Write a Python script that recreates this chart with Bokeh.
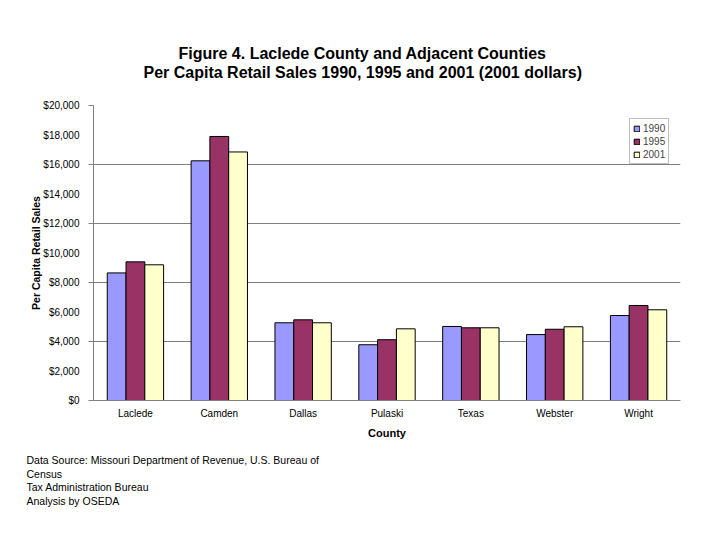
from bokeh.plotting import figure
from bokeh.models import (ColumnDataSource, FactorRange, Range1d, FixedTicker,
                          NumeralTickFormatter, Legend, LegendItem, Title)
from bokeh.transform import dodge
from bokeh.embed import file_html
from bokeh.resources import INLINE

# ---------------- data ----------------
counties = ["Laclede", "Camden", "Dallas", "Pulaski", "Texas", "Webster", "Wright"]
years = ["1990", "1995", "2001"]
sales_1990 = [8650, 16250, 5270, 3780, 5020, 4470, 5760]
sales_1995 = [9400, 17900, 5470, 4120, 4930, 4830, 6440]
sales_2001 = [9200, 16850, 5270, 4860, 4930, 5000, 6150]
y_ticks = list(range(0, 20001, 2000))
grid_ticks = [0, 4000, 8000, 12000, 16000, 20000]
title_lines = ["Figure 4. Laclede County and Adjacent Counties",
               "Per Capita Retail Sales 1990, 1995 and 2001 (2001 dollars)"]
y_title = "Per Capita Retail Sales"
x_title = "County"
source_lines = ["Data Source: Missouri Department of Revenue, U.S. Bureau of",
                "Census",
                "Tax Administration Bureau",
                "Analysis by OSEDA"]
colors = ["#9999FF", "#993366", "#FFFFCC"]

# ---------------- layout ----------------
W, H = 704, 524
FL, FR, FT, FB = 93, 680, 105, 400   # plot frame in canvas pixels
YMAX = 20000
FONT = "Liberation Sans"

source = ColumnDataSource(dict(county=counties, y1990=sales_1990,
                               y1995=sales_1995, y2001=sales_2001))

p = figure(width=W, height=H, x_range=FactorRange(*counties),
           y_range=Range1d(0, YMAX), output_backend="svg", toolbar_location=None,
           min_border_left=FL, min_border_right=W - FR,
           min_border_top=FT, min_border_bottom=H - FB)
p.outline_line_color = None
p.background_fill_color = "white"

bw = 0.224
renderers = []
for i, (col, c) in enumerate(zip(["y1990", "y1995", "y2001"], colors)):
    r = p.vbar(x=dodge("county", (i - 1) * bw, range=p.x_range), top=col,
               width=bw, source=source, fill_color=c, line_color="black",
               line_width=1)
    renderers.append(r)

# axes
p.xaxis.axis_line_color = "#808080"
p.xaxis.major_tick_line_color = None
p.xaxis.major_tick_out = 0
p.xaxis.major_tick_in = 0
p.xaxis.major_label_standoff = 7
p.xaxis.major_label_text_font = FONT
p.xaxis.major_label_text_font_size = "10px"
p.xaxis.major_label_text_color = "black"
p.xaxis.axis_label = x_title
p.xaxis.axis_label_text_font = FONT
p.xaxis.axis_label_text_font_size = "11px"
p.xaxis.axis_label_text_font_style = "bold"
p.xaxis.axis_label_text_color = "black"
p.xaxis.axis_label_standoff = 5
p.xgrid.visible = False

p.yaxis.ticker = FixedTicker(ticks=y_ticks, minor_ticks=grid_ticks)
p.yaxis.formatter = NumeralTickFormatter(format="$0,0")
p.yaxis.axis_line_color = "#808080"
p.yaxis.major_tick_line_color = None
p.yaxis.major_tick_out = 0
p.yaxis.major_tick_in = 0
p.yaxis.minor_tick_line_color = "#808080"
p.yaxis.minor_tick_out = 5
p.yaxis.minor_tick_in = 0
p.yaxis.major_label_standoff = 9
p.yaxis.major_label_text_font = FONT
p.yaxis.major_label_text_font_size = "10px"
p.yaxis.major_label_text_color = "black"
p.yaxis.axis_label = y_title
p.yaxis.axis_label_text_font = FONT
p.yaxis.axis_label_text_font_size = "10.5px"
p.yaxis.axis_label_text_font_style = "bold"
p.yaxis.axis_label_text_color = "black"
p.yaxis.axis_label_standoff = -2
p.ygrid.ticker = FixedTicker(ticks=grid_ticks[1:])
p.ygrid.grid_line_color = "#808080"
p.ygrid.grid_line_width = 1

# legend
legend = Legend(items=[LegendItem(label=y, renderers=[r]) for y, r in zip(years, renderers)],
                location=(536, 236), orientation="vertical",
                glyph_width=7, glyph_height=7, label_height=12, label_standoff=3,
                spacing=1, padding=3, margin=0,
                label_text_font=FONT, label_text_font_size="10px",
                border_line_color="#808080", border_line_width=1,
                background_fill_color="white", background_fill_alpha=1)
p.add_layout(legend)

# title: outer line is the plot's own title; a blank spacer sits next to the frame
p.title.text = title_lines[0]
p.title.align = "left"
p.title.offset = 85
p.title.text_font = FONT
p.title.text_font_size = "16px"
p.title.text_font_style = "bold"
p.title.text_color = "black"
p.title.standoff = 0
p.add_layout(Title(text=" ", text_font=FONT, text_font_size="16px", standoff=6),
             "above")
p.add_layout(Title(text=title_lines[1], align="left", offset=50, text_font=FONT,
                   text_font_size="16px", text_font_style="bold",
                   text_color="black", standoff=0),
             "above")

# source note below the chart
p.add_layout(Title(text="\n".join(source_lines), align="left", offset=-67,
                   vertical_align="top", text_font=FONT, text_font_size="10.5px",
                   text_font_style="normal", text_color="black",
                   text_line_height=1.12, standoff=25.5),
             "below")

open("out.html", "w").write(file_html(p, INLINE))
